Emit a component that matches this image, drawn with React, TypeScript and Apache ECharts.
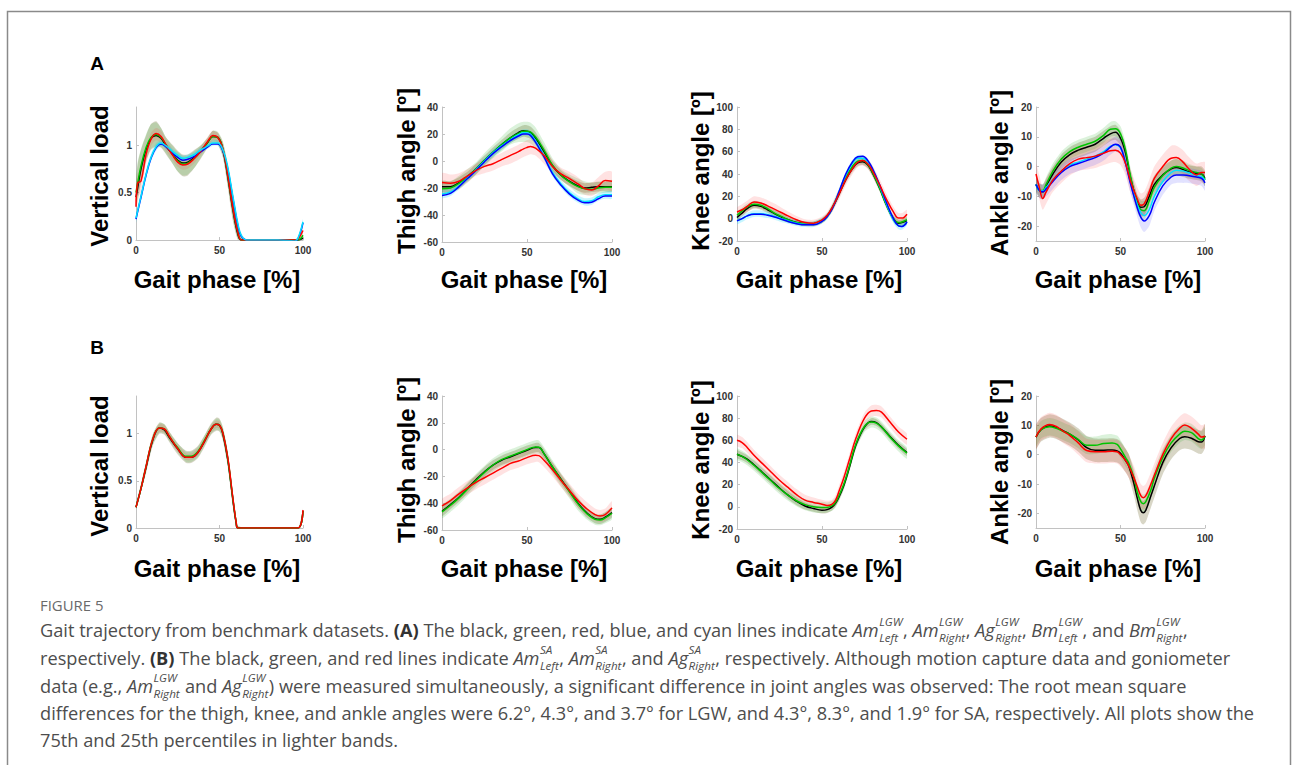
import React, { useEffect, useRef } from 'react';
import * as echarts from 'echarts';

// ---------------- DATA ----------------
// Panel A1: vertical load (LGW)
const A1_x = [0, 1, 3, 6, 9, 12, 15, 18, 22, 25, 28, 31, 35, 39, 43, 46, 49, 52, 55, 58, 61, 63, 66, 75, 85, 95, 97, 100];
const A1_black = [0.45, 0.55, 0.75, 0.95, 1.07, 1.10, 1.07, 0.99, 0.90, 0.84, 0.81, 0.82, 0.87, 0.94, 1.03, 1.09, 1.08, 0.95, 0.66, 0.32, 0.06, 0, 0, 0, 0, 0, 0, 0.02];
const A1_green = [0.50, 0.60, 0.78, 0.97, 1.08, 1.11, 1.08, 1.00, 0.90, 0.83, 0.80, 0.81, 0.86, 0.94, 1.03, 1.09, 1.08, 0.96, 0.68, 0.34, 0.08, 0, 0, 0, 0, 0, 0, 0.05];
const A1_red = [0.35, 0.60, 0.62, 0.90, 1.06, 1.12, 1.09, 1.00, 0.89, 0.82, 0.79, 0.80, 0.86, 0.94, 1.04, 1.10, 1.08, 0.96, 0.68, 0.34, 0.08, 0, 0, 0, 0, 0, 0.01, 0.10];
const A1_blue = [0.22, 0.30, 0.45, 0.68, 0.86, 0.97, 1.01, 0.98, 0.91, 0.87, 0.84, 0.85, 0.88, 0.93, 0.98, 1.01, 1.01, 0.94, 0.74, 0.44, 0.15, 0.04, 0, 0, 0, -0.01, 0.01, 0.18];
const A1_cyan = [0.23, 0.31, 0.46, 0.69, 0.87, 0.98, 1.02, 0.99, 0.93, 0.89, 0.86, 0.87, 0.90, 0.95, 0.99, 1.02, 1.02, 0.95, 0.76, 0.46, 0.17, 0.05, 0, 0, 0, -0.01, 0.02, 0.19];
const A1_black_lo = [0.35, 0.40, 0.60, 0.82, 0.95, 0.98, 0.97, 0.90, 0.80, 0.72, 0.67, 0.68, 0.76, 0.86, 0.97, 1.02, 1.00, 0.87, 0.55, 0.20, 0.00, 0, 0, 0, 0, 0, 0, 0];
const A1_black_hi = [0.60, 0.80, 0.95, 1.10, 1.22, 1.25, 1.18, 1.08, 1.00, 0.94, 0.90, 0.90, 0.95, 1.00, 1.08, 1.15, 1.13, 1.03, 0.78, 0.45, 0.15, 0.03, 0, 0, 0, 0, 0, 0.03];
const A1_green_lo = [0.38, 0.45, 0.62, 0.84, 0.96, 0.99, 0.98, 0.91, 0.80, 0.72, 0.68, 0.69, 0.76, 0.87, 0.98, 1.03, 1.01, 0.88, 0.57, 0.22, 0.01, 0, 0, 0, 0, 0, 0, 0.02];
const A1_green_hi = [0.62, 0.82, 0.96, 1.11, 1.22, 1.24, 1.18, 1.08, 0.99, 0.93, 0.89, 0.89, 0.94, 1.00, 1.08, 1.15, 1.14, 1.04, 0.79, 0.46, 0.16, 0.04, 0, 0, 0, 0, 0, 0.08];
const A1_red_lo = [0.30, 0.45, 0.50, 0.80, 0.99, 1.05, 1.02, 0.94, 0.84, 0.77, 0.74, 0.75, 0.81, 0.90, 0.99, 1.05, 1.03, 0.90, 0.60, 0.27, 0.04, 0, 0, 0, 0, 0, 0, 0.06];
const A1_red_hi = [0.42, 0.70, 0.74, 0.98, 1.13, 1.18, 1.15, 1.06, 0.95, 0.88, 0.85, 0.86, 0.91, 0.99, 1.09, 1.15, 1.13, 1.02, 0.76, 0.42, 0.12, 0.02, 0, 0, 0, 0, 0.02, 0.14];
const A1_cyan_lo = [0.18, 0.26, 0.41, 0.64, 0.83, 0.94, 0.99, 0.96, 0.90, 0.86, 0.83, 0.84, 0.87, 0.92, 0.96, 0.99, 0.99, 0.91, 0.70, 0.40, 0.12, 0.02, 0, 0, 0, -0.02, 0, 0.15];
const A1_cyan_hi = [0.28, 0.36, 0.51, 0.74, 0.91, 1.02, 1.05, 1.02, 0.96, 0.92, 0.89, 0.90, 0.93, 0.98, 1.02, 1.05, 1.05, 0.99, 0.81, 0.52, 0.22, 0.08, 0.01, 0, 0, 0, 0.04, 0.22];

// Panel A2: thigh angle (LGW)
const A2_x = [0, 5, 10, 15, 20, 25, 30, 35, 40, 45, 48, 50, 52, 55, 60, 65, 70, 75, 80, 84, 88, 92, 96, 100];
const A2_black = [-19, -19, -16, -11.5, -6, 0.5, 6.5, 12, 17, 21, 22.5, 22, 21, 17, 7, -3.5, -10.5, -15, -18.5, -20, -19.5, -19, -19, -19];
const A2_green = [-20.5, -20, -16.5, -11.5, -6, 0.5, 6.5, 12, 17, 20.5, 22, 22, 21.5, 18, 8, -3, -10.5, -15.5, -19, -20.5, -21, -20, -19.5, -19.5];
const A2_red = [-16, -16.5, -15, -11, -7, -4, -2, 1, 4, 7, 9, 10, 10.8, 9.5, 4, -4, -9.5, -13, -17, -20.5, -21.5, -18.5, -14.5, -15];
const A2_blue = [-25.5, -24, -19, -13, -7, -0.5, 5.5, 10.5, 15, 18.5, 20, 20, 19, 14, 3, -9.5, -18, -24.5, -29, -31, -30.5, -28, -26, -26];
const A2_cyan = [-24.5, -23, -18.5, -12.5, -6.5, 0, 6, 11, 15.5, 19.5, 21, 21, 20, 15, 4, -8.5, -17, -23.5, -28, -30, -29.5, -26.5, -25, -25];
const A2_black_lo = [-23, -23, -20, -15, -10, -3, 3, 8.5, 13, 16.5, 18, 17.5, 16.5, 12.5, 3, -7, -14, -18.5, -22, -23.5, -23, -22.5, -22.5, -22.5];
const A2_black_hi = [-15, -15, -12, -8, -2, 4, 10, 15.5, 21, 25, 26.5, 26.5, 25.5, 21.5, 11, 0, -7, -11.5, -15, -16.5, -16, -15.5, -15.5, -15.5];
const A2_green_lo = [-25, -24, -21, -16, -10, -4, 2, 7, 12, 14, 14, 14, 13, 10, 1, -8, -14, -19, -24, -25, -25, -24, -23.5, -23];
const A2_green_hi = [-15, -15, -11, -6, -1, 6, 12, 18, 24, 28, 29, 29, 28.5, 25, 14, 2, -6, -10, -13, -15, -16, -15, -15, -14];
const A2_red_lo = [-23, -23, -21, -16, -11, -9, -7, -4, -2, 1, 3, 4, 5, 4, -2, -9, -14, -18, -22, -25, -26, -23, -21, -22];
const A2_red_hi = [-9, -10, -9, -6, -2, 1, 3, 6, 9, 12, 14, 15.5, 16, 15, 10, 1, -5, -8, -12, -16, -16, -12, -8, -8];
const A2_cyan_lo = [-27.5, -26, -21, -15, -9, -3, 3, 8, 13, 17, 18.5, 18.5, 17, 12, 1, -11.5, -20, -26.5, -31, -33, -32.5, -29.5, -28, -28];
const A2_cyan_hi = [-21.5, -20, -16, -10, -4, 2.5, 8.5, 13.5, 18, 22, 23.5, 23.5, 22.5, 17.5, 6.5, -6, -14.5, -21, -25.5, -27.5, -27, -24, -22.5, -22.5];

// Panel A3: knee angle (LGW)
const A3_x = [0, 3, 6, 10, 14, 18, 22, 26, 30, 35, 40, 45, 50, 53, 56, 60, 64, 68, 71, 74, 77, 80, 84, 88, 92, 95, 97, 100];
const A3_black = [1, 5, 9, 12, 11, 8, 4.5, 1.5, -1, -3.5, -4.5, -4.5, -2, 2, 9, 22, 35, 45, 50, 51, 48, 40, 27, 12, 0, -4, -3.5, -2];
const A3_green = [3, 7, 10.5, 13, 12, 9, 5, 2, -1, -3.5, -4.5, -4.5, -1.5, 2.5, 10, 23, 37, 47, 51.5, 52, 48.5, 40.5, 27, 12, 0, -3.5, -3, -1];
const A3_red = [6, 8, 11, 15, 14, 11.5, 8.5, 5.5, 2.5, -1, -3.5, -4, -1, 3, 10, 22, 35, 45, 50.5, 52, 49, 42, 30, 17, 6, 0.5, 0.5, 4];
const A3_blue = [-2, 0, 2.5, 4, 4, 3, 1.5, -0.5, -2.5, -4.5, -5.5, -5.5, -2.5, 2, 9, 24, 40, 51, 55.5, 56, 52, 44, 30, 14, 0, -6.5, -7, -3];
const A3_cyan = [-2, 0, 2.5, 4.5, 4.5, 3.5, 2, 0, -2, -4, -5, -5, -2, 2, 9, 24, 39, 50, 54, 54, 50.5, 43, 29, 13, -1, -6.5, -7, -3];
const A3_black_lo = [-2, 2, 6, 9, 8, 5, 1.5, -1.5, -3.5, -5.5, -6.5, -6.5, -4, 0, 6.5, 19, 32, 42, 47, 48, 45, 37, 24, 9, -3, -7, -6.5, -5];
const A3_black_hi = [4, 8, 12, 15, 14, 11, 7.5, 4.5, 1.5, -1.5, -2.5, -2.5, 0, 4, 11.5, 25, 38, 48, 53, 54, 51, 43, 30, 15, 3, -1, -0.5, 1];
const A3_green_lo = [0, 4, 7.5, 10, 9, 6, 2, -1, -3.5, -5.5, -6.5, -6.5, -4, 0, 7, 20, 34, 44, 48.5, 49, 45.5, 37.5, 24, 9, -3, -6.5, -6, -4];
const A3_green_hi = [6, 10, 13.5, 16, 15, 12, 8, 5, 1.5, -1.5, -2.5, -2.5, 1, 5, 13, 26, 40, 50, 54.5, 55, 51.5, 43.5, 30, 15, 3, -0.5, 0, 2];
const A3_red_lo = [1, 3, 6, 10, 9, 6.5, 3.5, 1, -1.5, -4.5, -6.5, -7, -4, 0, 6, 17, 30, 40, 46, 47.5, 44.5, 37, 25, 12, 1.5, -4, -3.5, -1];
const A3_red_hi = [10, 13, 16, 20, 19, 16.5, 13.5, 10, 6.5, 2.5, -0.5, -1, 2, 6, 14, 27, 40, 50, 55, 56.5, 53.5, 47, 35, 22, 10.5, 5, 5, 8];
const A3_cyan_lo = [-5, -3, -0.5, 1.5, 1.5, 0.5, -1, -3, -4.5, -6.5, -7.5, -7.5, -4.5, -0.5, 6.5, 21, 36, 47, 51, 51, 47.5, 40, 26, 10, -4, -9.5, -10, -6];
const A3_cyan_hi = [1, 3, 5.5, 7.5, 7.5, 6.5, 5, 3, 0.5, -1.5, -2.5, -2.5, 0.5, 4.5, 11.5, 27, 42, 53, 57, 57, 53.5, 46, 32, 16, 2, -3.5, -4, 0];

// Panel A4: ankle angle (LGW)
const A4_x = [0, 2, 4, 6, 10, 15, 20, 25, 30, 35, 40, 44, 47, 50, 53, 56, 60, 62, 64, 67, 70, 75, 80, 83, 87, 90, 95, 98, 100];
const A4_black = [-6, -8, -8.5, -6.5, -2.5, 1.5, 4, 5.5, 6.5, 7.5, 9.5, 11, 11.5, 9.5, 4.5, -4, -12, -13.7, -13.5, -10, -6, -2.8, -0.8, -0.3, -1, -1.7, -2.3, -2.5, -4];
const A4_green = [-6, -8, -8, -6, -1.5, 2.5, 5, 6.5, 7.5, 8.5, 10.5, 12.5, 12.7, 11, 5.5, -3.5, -12.5, -14.5, -14.8, -11.5, -7, -3, -0.5, 0, -0.5, -1.2, -2, -2.5, -4.5];
const A4_red = [-2.5, -7, -10.7, -8.5, -4.5, -1.5, 1, 2.5, 3, 3.5, 4.5, 5.3, 5.5, 4.5, 1, -5, -11, -13, -12.5, -8.5, -4, 0, 2.8, 3, 1.5, -0.5, -2.8, -2, -2];
const A4_blue = [-6, -8, -8.5, -7.5, -5, -2, 0, 1, 2, 3, 4.5, 6.5, 7.5, 6.5, 1, -6, -14, -17, -18.3, -16.5, -12, -6.5, -3.5, -2.8, -2.8, -3, -3.5, -4, -5.5];
const A4_cyan = [-6, -8, -8.2, -7, -4.5, -1.5, 0.5, 1.5, 2.5, 3.5, 5, 6.8, 7.3, 6.3, 1.5, -5.5, -13, -15.5, -16.5, -14.5, -10, -5, -2, -1.2, -1.5, -2, -3, -3.5, -4.5];
const A4_black_lo = [-8.5, -10.5, -11, -9, -5, -1, 1.5, 3, 4, 5, 7, 8.5, 9, 7, 2, -6.5, -14.5, -16.5, -16.5, -13, -9, -5.5, -3.5, -3, -3.5, -4, -4.5, -5, -6.5];
const A4_black_hi = [-3.5, -5.5, -6, -4, 0, 4, 6.5, 8, 9, 10, 12, 13.5, 14, 12, 7, -1.5, -9.5, -11, -10.5, -7, -3, 0, 2, 2.5, 1.5, 0.5, 0, 0, -1.5];
const A4_green_lo = [-8, -10, -10, -8.5, -4, 0, 2.5, 4, 5, 6, 8, 10, 10.2, 8.5, 3, -6.5, -15.5, -17.5, -18, -14.5, -10, -5.5, -3, -2.5, -3, -3.5, -4, -4.5, -6.5];
const A4_green_hi = [-4, -6, -6, -3.5, 1, 5, 7.5, 9, 10, 11, 13, 15, 15.2, 13.5, 8, -0.5, -9.5, -11.5, -11.5, -8.5, -4, -0.5, 2, 2.5, 2, 1, 0, -0.5, -2.5];
const A4_red_lo = [-6, -11, -14.5, -12.5, -8.5, -5.5, -3, -1.5, -1, -0.5, 0.5, 1.3, 1.5, 0.5, -3, -9, -15, -17, -16.5, -12.5, -8, -4, -1.5, -1, -2.5, -4.5, -6.5, -5.5, -5.5];
const A4_red_hi = [1, -3, -7, -4.5, -0.5, 2.5, 5, 6.5, 7, 7.5, 8.5, 9.3, 9.5, 8.5, 5, -1, -7, -9, -8.5, -4.5, 0, 4, 7, 7, 5.5, 3.5, 1, 1.5, 1.5];
const A4_blue_lo = [-8.5, -10.5, -11, -10, -7.5, -4.5, -2.5, -1.5, -0.5, 0.5, 2, 4, 5, 4, -2, -9, -17, -20.5, -22, -20, -15, -9.5, -6, -5.5, -5.5, -5.5, -6, -6.5, -8];
const A4_blue_hi = [-3.5, -5.5, -6, -5, -2.5, 0.5, 2.5, 3.5, 4.5, 5.5, 7, 9, 10, 9, 4, -3, -11, -13.5, -14.5, -13, -9, -3.5, -1, -0.3, -0.3, -0.5, -1, -1.5, -3];

// Panel B1: vertical load (SA)
const B1_x = [0, 3, 6, 10, 14, 17, 20, 25, 30, 33, 37, 41, 45, 48, 50, 52, 55, 58, 60, 61, 70, 80, 90, 97, 100];
const B1_black = [0.22, 0.42, 0.64, 0.93, 1.06, 1.04, 0.96, 0.84, 0.75, 0.75, 0.80, 0.92, 1.05, 1.10, 1.09, 1.00, 0.72, 0.30, 0.05, 0, 0, 0, 0, 0, 0.18];
const B1_green = [0.22, 0.42, 0.65, 0.94, 1.06, 1.05, 0.97, 0.85, 0.76, 0.76, 0.81, 0.93, 1.05, 1.10, 1.09, 1.01, 0.73, 0.31, 0.06, 0, 0, 0, 0, 0, 0.18];
const B1_red = [0.22, 0.42, 0.65, 0.94, 1.06, 1.05, 0.97, 0.84, 0.75, 0.75, 0.80, 0.92, 1.05, 1.10, 1.09, 1.01, 0.74, 0.32, 0.06, 0, 0, 0, 0, 0, 0.19];
const B1_black_lo = [0.20, 0.38, 0.58, 0.87, 1.00, 0.99, 0.91, 0.78, 0.69, 0.69, 0.74, 0.86, 0.99, 1.03, 1.02, 0.93, 0.64, 0.22, 0.01, 0, 0, 0, 0, 0, 0.16];
const B1_black_hi = [0.25, 0.47, 0.70, 0.99, 1.12, 1.10, 1.02, 0.90, 0.82, 0.82, 0.87, 0.98, 1.11, 1.17, 1.16, 1.07, 0.80, 0.38, 0.10, 0.02, 0, 0, 0, 0, 0.20];
const B1_green_lo = [0.20, 0.39, 0.60, 0.88, 1.01, 1.00, 0.92, 0.80, 0.70, 0.70, 0.75, 0.87, 1.00, 1.04, 1.03, 0.94, 0.66, 0.24, 0.02, 0, 0, 0, 0, 0, 0.16];
const B1_green_hi = [0.24, 0.46, 0.69, 0.99, 1.11, 1.10, 1.02, 0.90, 0.81, 0.81, 0.86, 0.98, 1.10, 1.16, 1.15, 1.07, 0.80, 0.38, 0.10, 0.02, 0, 0, 0, 0, 0.20];
const B1_red_lo = [0.21, 0.40, 0.62, 0.90, 1.02, 1.01, 0.93, 0.81, 0.72, 0.72, 0.77, 0.89, 1.01, 1.06, 1.05, 0.96, 0.68, 0.27, 0.03, 0, 0, 0, 0, 0, 0.17];
const B1_red_hi = [0.23, 0.44, 0.68, 0.98, 1.10, 1.09, 1.01, 0.88, 0.79, 0.79, 0.84, 0.96, 1.09, 1.14, 1.13, 1.05, 0.79, 0.37, 0.09, 0.01, 0, 0, 0, 0, 0.21];

// Panel B2: thigh angle (SA)
const B2_x = [0, 5, 10, 15, 20, 25, 30, 35, 40, 45, 50, 55, 57, 60, 65, 70, 75, 80, 85, 90, 93, 96, 100];
const B2_black = [-46, -41, -35.5, -29, -22.5, -16.5, -11.5, -8, -5.5, -3, -0.5, 1.5, 1.5, -3, -13, -22, -31, -40, -47, -51.5, -52, -50.5, -47];
const B2_green = [-46.5, -41.5, -36, -29.5, -23, -17, -11.5, -7.5, -5, -2.5, 0, 2, 1.8, -3, -13, -22.5, -31.5, -40.5, -47.5, -52, -52.5, -51, -47.5];
const B2_red = [-42, -38, -33, -28.5, -24.5, -21, -17.5, -14, -10.5, -8.5, -6, -4.2, -4.5, -8, -15, -23, -30.5, -38, -44, -48.5, -49.5, -48.5, -43.5];
const B2_black_lo = [-49.5, -44.5, -39, -32.5, -26, -20, -15, -11.5, -9, -6.5, -4, -2, -2, -6.5, -16.5, -25.5, -34.5, -43.5, -50.5, -55, -55.5, -54, -50.5];
const B2_black_hi = [-42.5, -37.5, -32, -25.5, -19, -13, -8, -4.5, -2, 0.5, 3, 5, 5, 0.5, -9.5, -18.5, -27.5, -36.5, -43.5, -48, -48.5, -47, -43.5];
const B2_green_lo = [-51, -46.5, -41, -34.5, -28, -22, -16.5, -12.5, -10, -7.5, -5, -3, -3.2, -8, -18, -27.5, -36.5, -45.5, -52, -56, -56.5, -55, -52];
const B2_green_hi = [-41.5, -36.5, -31, -24.5, -18, -12, -6.5, -2.5, 0, 2.5, 5, 7, 6.8, 2, -8, -17.5, -26.5, -35.5, -43, -47.5, -48.5, -46.5, -43];
const B2_red_lo = [-47, -43, -38, -33.5, -29.5, -26, -22.5, -19, -15.5, -13.5, -11, -9.2, -9.5, -13, -20, -28, -35.5, -43, -49, -53, -54, -53, -48.5];
const B2_red_hi = [-37, -33, -28, -23.5, -19.5, -16, -12.5, -9, -5.5, -3.5, -1, 0.8, 0.5, -3, -10, -18, -25.5, -33, -39, -44, -45, -44, -38.5];

// Panel B3: knee angle (SA)
const B3_x = [0, 3, 6, 10, 15, 20, 25, 30, 35, 40, 45, 50, 53, 56, 58, 60, 63, 66, 70, 75, 79, 82, 85, 90, 95, 100];
const B3_black = [47.5, 45.5, 43, 38, 31, 24, 17, 10.5, 5, 0.8, -1.5, -3, -2.5, 0, 3.5, 9, 20, 35, 56, 72, 77, 76, 72, 63.5, 55.5, 49];
const B3_green = [47.5, 45.5, 42.5, 37.5, 30.5, 23.5, 16.5, 10.5, 5.5, 2, 0, -0.5, -0.5, 1, 4, 10, 21, 36, 57, 72.5, 76.5, 75.5, 72, 63, 55, 48.5];
const B3_red = [60, 58, 53.5, 46.5, 39, 31.5, 24, 17.5, 11, 6, 4, 2.4, 1.2, 2.5, 6, 14, 27, 42, 62, 80, 86.5, 87, 85.5, 76.5, 67.5, 61];
const B3_black_lo = [44, 42, 39.5, 34.5, 27.5, 20.5, 13.5, 7, 1.5, -2.5, -4.5, -6, -5.5, -3, 0.5, 6, 17, 32, 53, 69, 74, 73, 69, 60.5, 52.5, 46];
const B3_black_hi = [51, 49, 46.5, 41.5, 34.5, 27.5, 20.5, 14, 8.5, 4, 1.5, 0, 0.5, 3, 6.5, 12, 23, 38, 59, 75, 80, 79, 75, 66.5, 58.5, 52];
const B3_green_lo = [42.5, 40.5, 37.5, 32.5, 25.5, 18.5, 11.5, 5.5, 0.5, -3, -5, -5.5, -5, -3.5, -0.5, 5, 16, 31, 52, 67.5, 71.5, 70.5, 67, 58, 50, 43.5];
const B3_green_hi = [52.5, 50.5, 47.5, 42.5, 35.5, 28.5, 21.5, 15.5, 10.5, 7, 5, 4.5, 4, 5.5, 8.5, 15, 26, 41, 62, 77.5, 81.5, 80.5, 77, 68, 60, 53.5];
const B3_red_lo = [55, 53, 48.5, 41.5, 34, 26.5, 19, 12.5, 6, 1.5, -0.5, -2, -3, -1.5, 1.5, 9, 22, 37, 57, 75, 81.5, 82, 80.5, 71.5, 62.5, 56];
const B3_red_hi = [65, 63, 58.5, 51.5, 44, 36.5, 29, 22.5, 16, 11, 8.5, 6.5, 5.5, 6.5, 10.5, 19, 32, 47, 67, 85, 91.5, 92, 90.5, 81.5, 72.5, 66];

// Panel B4: ankle angle (SA)
const B4_x = [0, 3, 8, 12, 16, 20, 25, 30, 35, 40, 45, 48, 50, 53, 55, 58, 60, 62, 63.5, 65, 68, 70, 75, 80, 85, 88, 92, 96, 98, 100];
const B4_black = [6, 8.5, 9.8, 9.3, 8.2, 7, 5, 2.4, 1.5, 1.5, 1.6, 1.3, 0.5, -2, -4, -10, -15, -19, -19.8, -18.9, -14, -10.7, -2.7, 2.4, 5.5, 6.1, 5.6, 4.4, 4.3, 6.4];
const B4_green = [6, 8.5, 9.5, 9, 8, 7, 5.2, 3.2, 3.2, 3.8, 4, 3.5, 2, -1, -3, -8, -13, -16, -16.7, -16, -12, -8, -1, 4, 7, 8, 7.5, 5.5, 5, 6.3];
const B4_red = [6, 8.8, 10.3, 9.6, 8, 6.5, 4, 1.4, 1, 1, 1.2, 1, 0, -2, -4, -8, -11, -14, -14.7, -14, -10, -7, 0, 5.5, 9, 10.1, 9, 7, 6, 6.3];
const B4_black_lo = [2, 4.5, 5.8, 5.3, 4.2, 3, 1, -1.6, -2.5, -2.5, -2.4, -2.7, -3.5, -6, -8, -14, -19, -23, -23.8, -22.9, -18, -14.7, -6.7, -1.6, 1.5, 2.1, 1.6, 0.4, 0.3, 2.4];
const B4_black_hi = [10, 12.5, 13.8, 13.3, 12.2, 11, 9, 6.4, 5.5, 5.5, 5.6, 5.3, 4.5, 2, 0, -6, -11, -15, -15.8, -14.9, -10, -6.7, 1.3, 6.4, 9.5, 10.1, 9.6, 8.4, 8.3, 10.4];
const B4_green_lo = [3, 5.5, 6.5, 6, 5, 4, 2.2, 0.2, 0.2, 0.8, 1, 0.5, -1, -4, -6, -11, -16, -19, -19.7, -19, -15, -11, -4, 1, 4, 5, 4.5, 2.5, 2, 3.3];
const B4_green_hi = [9, 11.5, 12.5, 12, 11, 10, 8.2, 6.2, 6.2, 6.8, 7, 6.5, 5, 2, 0, -5, -10, -13, -13.7, -13, -9, -5, 2, 7, 10, 11, 10.5, 8.5, 8, 9.3];
const B4_red_lo = [2, 4.8, 6.3, 5.6, 4, 2.5, 0, -2.6, -3, -3, -2.8, -3, -4, -6, -8, -12, -15, -18, -18.7, -18, -14, -11, -4, 1.5, 5, 6.1, 5, 3, 2, 2.3];
const B4_red_hi = [10, 12.8, 14.3, 13.6, 12, 10.5, 8, 5.4, 5, 5, 5.2, 5, 4, 2, 0, -4, -7, -10, -10.7, -10, -6, -3, 4, 9.5, 13, 14.1, 13, 11, 10, 10.3];

// Axis ranges and tick labels
const X_TICKS = [0, 50, 100];
const LOAD_RANGE = [0, 1.4];
const LOAD_TICKS = [0, 0.5, 1];
const THIGH_RANGE = [-60, 40];
const THIGH_TICKS = [-60, -40, -20, 0, 20, 40];
const KNEE_RANGE = [-20, 100];
const KNEE_TICKS = [-20, 0, 20, 40, 60, 80, 100];
const ANKLE_RANGE = [-25, 20];
const ANKLE_TICKS = [-20, -10, 0, 10, 20];

const Y_TITLES = ['Vertical load', 'Thigh angle [º]', 'Knee angle [º]', 'Ankle angle [º]'];
const X_TITLE = 'Gait phase [%]';

// ---------------- STYLE ----------------
const LINE_COLORS: Record<string, string> = {
  black: '#000000', green: '#00c400', red: '#ff0000', blue: '#0000ff', cyan: '#00e1ff',
};
const BAND_COLORS: Record<string, string> = {
  black: 'rgba(105,95,35,0.26)', green: 'rgba(0,165,0,0.14)', red: 'rgba(255,50,50,0.14)',
  blue: 'rgba(50,50,255,0.14)', cyan: 'rgba(0,215,255,0.22)',
};
const DRAW_ORDER_A1 = ['black', 'green', 'blue', 'red', 'cyan'];
const DRAW_ORDER = ['black', 'green', 'cyan', 'blue', 'red'];

// grid: left, top, width, height
const GRID_POS = [
  [136, 107, 167, 133], [442, 107, 170, 135], [737, 107, 170, 134], [1036, 107, 169, 134],
  [136, 396, 167, 132], [442, 396, 170, 134], [737, 396, 170, 133], [1036, 396, 169, 132],
];
const YTITLE_POS = [[99, 176], [406, 171], [700, 171], [999, 173], [99, 466], [406, 460], [700, 460], [999, 462]];
const XTITLE_POS = [[217, 279], [524, 279], [819, 279], [1118, 279], [217, 568], [524, 568], [819, 568], [1118, 568]];

type Panel = {
  x: number[]; range: number[]; ticks: number[]; title: string; order: string[];
  lines: Record<string, number[]>;
  bands: [string, number[], number[]][];
};

const PANELS: Panel[] = [
  { x: A1_x, range: LOAD_RANGE, ticks: LOAD_TICKS, title: Y_TITLES[0], order: DRAW_ORDER_A1,
    lines: { black: A1_black, green: A1_green, red: A1_red, blue: A1_blue, cyan: A1_cyan },
    bands: [['black', A1_black_lo, A1_black_hi], ['green', A1_green_lo, A1_green_hi], ['red', A1_red_lo, A1_red_hi], ['cyan', A1_cyan_lo, A1_cyan_hi]] },
  { x: A2_x, range: THIGH_RANGE, ticks: THIGH_TICKS, title: Y_TITLES[1], order: DRAW_ORDER,
    lines: { black: A2_black, green: A2_green, red: A2_red, blue: A2_blue, cyan: A2_cyan },
    bands: [['black', A2_black_lo, A2_black_hi], ['green', A2_green_lo, A2_green_hi], ['red', A2_red_lo, A2_red_hi], ['cyan', A2_cyan_lo, A2_cyan_hi]] },
  { x: A3_x, range: KNEE_RANGE, ticks: KNEE_TICKS, title: Y_TITLES[2], order: DRAW_ORDER,
    lines: { black: A3_black, green: A3_green, red: A3_red, blue: A3_blue, cyan: A3_cyan },
    bands: [['black', A3_black_lo, A3_black_hi], ['green', A3_green_lo, A3_green_hi], ['red', A3_red_lo, A3_red_hi], ['cyan', A3_cyan_lo, A3_cyan_hi]] },
  { x: A4_x, range: ANKLE_RANGE, ticks: ANKLE_TICKS, title: Y_TITLES[3], order: DRAW_ORDER,
    lines: { black: A4_black, green: A4_green, red: A4_red, blue: A4_blue, cyan: A4_cyan },
    bands: [['black', A4_black_lo, A4_black_hi], ['green', A4_green_lo, A4_green_hi], ['red', A4_red_lo, A4_red_hi], ['blue', A4_blue_lo, A4_blue_hi]] },
  { x: B1_x, range: LOAD_RANGE, ticks: LOAD_TICKS, title: Y_TITLES[0], order: DRAW_ORDER,
    lines: { black: B1_black, green: B1_green, red: B1_red },
    bands: [['black', B1_black_lo, B1_black_hi], ['green', B1_green_lo, B1_green_hi], ['red', B1_red_lo, B1_red_hi]] },
  { x: B2_x, range: THIGH_RANGE, ticks: THIGH_TICKS, title: Y_TITLES[1], order: DRAW_ORDER,
    lines: { black: B2_black, green: B2_green, red: B2_red },
    bands: [['black', B2_black_lo, B2_black_hi], ['green', B2_green_lo, B2_green_hi], ['red', B2_red_lo, B2_red_hi]] },
  { x: B3_x, range: KNEE_RANGE, ticks: KNEE_TICKS, title: Y_TITLES[2], order: DRAW_ORDER,
    lines: { black: B3_black, green: B3_green, red: B3_red },
    bands: [['black', B3_black_lo, B3_black_hi], ['green', B3_green_lo, B3_green_hi], ['red', B3_red_lo, B3_red_hi]] },
  { x: B4_x, range: ANKLE_RANGE, ticks: ANKLE_TICKS, title: Y_TITLES[3], order: DRAW_ORDER,
    lines: { black: B4_black, green: B4_green, red: B4_red },
    bands: [['black', B4_black_lo, B4_black_hi], ['green', B4_green_lo, B4_green_hi], ['red', B4_red_lo, B4_red_hi]] },
];

// ---------------- CAPTION ----------------
type Seg = string | { b: string } | { m: string; sup: string; sub: string };
const M = (m: string, sup: string, sub: string) => ({ m, sup, sub });
const CAPTION_LABEL = 'FIGURE 5';
const CAPTION_LINES: Seg[][] = [
  ['Gait trajectory from benchmark datasets. ', { b: '(A)' }, ' The black, green, red, blue, and cyan lines indicate ',
    M('Am', 'LGW', 'Left'), ', ', M('Am', 'LGW', 'Right'), ', ', M('Ag', 'LGW', 'Right'), ', ', M('Bm', 'LGW', 'Left'), ', and ', M('Bm', 'LGW', 'Right'), ','],
  ['respectively. ', { b: '(B)' }, ' The black, green, and red lines indicate ', M('Am', 'SA', 'Left'), ', ', M('Am', 'SA', 'Right'), ', and ',
    M('Ag', 'SA', 'Right'), ', respectively. Although motion capture data and goniometer'],
  ['data (e.g., ', M('Am', 'LGW', 'Right'), ' and ', M('Ag', 'LGW', 'Right'), ') were measured simultaneously, a significant difference in joint angles was observed: The root mean square'],
  ['differences for the thigh, knee, and ankle angles were 6.2°, 4.3°, and 3.7° for LGW, and 4.3°, 8.3°, and 1.9° for SA, respectively. All plots show the'],
  ['75th and 25th percentiles in lighter bands.'],
];
const CAP_FONT = 'Open Sans';
const CAP_X = 40;
const CAP_Y = [630, 658, 686, 713, 740];
const CAP_COLOR = '#4d4d4d';

function buildCaption(): any[] {
  const canvas = document.createElement('canvas');
  const ctx = canvas.getContext('2d')!;
  const measure = (t: string, size: number, weight = 'normal', style = 'normal') => {
    ctx.font = `${style} ${weight} ${size}px "${CAP_FONT}"`;
    return ctx.measureText(t).width;
  };
  const refW = measure(CAPTION_LINES[3][0] as string, 16);
  const size = Math.max(13, Math.min(20, (16 * 1215) / refW));
  const small = size * 0.64;
  const out: any[] = [];
  const txt = (x: number, y: number, text: string, fs: number, weight = 'normal', style = 'normal', fill = CAP_COLOR) => ({
    type: 'text', x, y, silent: true,
    style: { text, fontSize: fs, fontFamily: CAP_FONT, fontWeight: weight, fontStyle: style, fill, align: 'left', verticalAlign: 'middle' },
  });
  out.push(txt(CAP_X, 605, CAPTION_LABEL, size * 0.82, 'normal', 'normal', '#6a6a6a'));
  CAPTION_LINES.forEach((line, li) => {
    let x = CAP_X;
    const y = CAP_Y[li];
    line.forEach((seg) => {
      if (typeof seg === 'string') {
        out.push(txt(x, y, seg, size));
        x += measure(seg, size);
      } else if ('b' in seg) {
        out.push(txt(x, y, seg.b, size, 'bold', 'normal', '#333'));
        x += measure(seg.b, size, 'bold');
      } else {
        out.push(txt(x, y, seg.m, size, 'normal', 'italic'));
        x += measure(seg.m, size, 'normal', 'italic') + 0.5;
        out.push(txt(x, y - size * 0.46, seg.sup, small, 'normal', 'italic'));
        out.push(txt(x, y + size * 0.4, seg.sub, small, 'normal', 'italic'));
        x += Math.max(measure(seg.sup, small, 'normal', 'italic'), measure(seg.sub, small, 'normal', 'italic')) + 0.5;
      }
    });
  });
  return out;
}

// ---------------- OPTION ----------------
const AXIS_COLOR = '#c2c2c2';
const TICK_FONT = { fontSize: 10, fontWeight: 'bold', color: '#333', fontFamily: 'Liberation Sans' };
const TITLE_FONT = 'Liberation Sans';

function buildOption() {
  const grid = GRID_POS.map(([l, t, w, h]) => ({ left: l, top: t, width: w, height: h }));
  const xAxis = PANELS.map((_, i) => ({
    gridIndex: i, type: 'value', min: X_TICKS[0], max: X_TICKS[X_TICKS.length - 1], interval: 50,
    axisLine: { show: true, onZero: false, lineStyle: { color: AXIS_COLOR, width: 1 } },
    axisTick: { show: true, inside: true, length: 3, lineStyle: { color: AXIS_COLOR } },
    axisLabel: { ...TICK_FONT, margin: 5, customValues: X_TICKS },
    splitLine: { show: false },
  }));
  const yAxis = PANELS.map((p, i) => ({
    gridIndex: i, type: 'value', min: p.range[0], max: p.range[1],
    axisLine: { show: true, onZero: false, lineStyle: { color: AXIS_COLOR, width: 1 } },
    axisTick: { show: true, inside: true, length: 3, lineStyle: { color: AXIS_COLOR }, customValues: p.ticks },
    axisLabel: { ...TICK_FONT, margin: 4, customValues: p.ticks },
    splitLine: { show: false },
  }));
  const series: any[] = [];
  PANELS.forEach((p, i) => {
    p.bands.forEach(([name, lo, hi]) => {
      series.push({
        type: 'custom', name: `band-${i}-${name}`, xAxisIndex: i, yAxisIndex: i, silent: true, clip: true, z: 1,
        data: p.x.map((v, k) => [v, lo[k], hi[k]]),
        encode: { x: 0, y: [1, 2] },
        renderItem: (params: any, api: any) => {
          if (params.dataIndex !== 0) return null;
          const top = p.x.map((v, k) => api.coord([v, hi[k]]));
          const bot = p.x.map((v, k) => api.coord([v, lo[k]])).reverse();
          return {
            type: 'polygon',
            shape: { points: top.concat(bot), smooth: 0.25 },
            style: { fill: BAND_COLORS[name], stroke: null },
          };
        },
      });
    });
    p.order.forEach((name) => {
      const ys = p.lines[name];
      if (!ys) return;
      series.push({
        type: 'line', name: `${i}-${name}`, xAxisIndex: i, yAxisIndex: i, silent: true, clip: true, z: 2,
        data: p.x.map((v, k) => [v, ys[k]]),
        smooth: 0.4, symbol: 'none', showSymbol: false,
        lineStyle: { color: LINE_COLORS[name], width: 1.5 },
        itemStyle: { color: LINE_COLORS[name] },
      });
    });
  });

  const graphic: any[] = [
    { type: 'rect', silent: true, shape: { x: 7.5, y: 11.5, width: 1283, height: 800 },
      style: { fill: null, stroke: '#8a8a8a', lineWidth: 1.5 } },
    { type: 'text', x: 97, y: 63, silent: true,
      style: { text: 'A', fontSize: 19, fontWeight: 'bold', fontFamily: TITLE_FONT, fill: '#000', align: 'center', verticalAlign: 'middle' } },
    { type: 'text', x: 97, y: 347, silent: true,
      style: { text: 'B', fontSize: 19, fontWeight: 'bold', fontFamily: TITLE_FONT, fill: '#000', align: 'center', verticalAlign: 'middle' } },
  ];
  PANELS.forEach((p, i) => {
    graphic.push({
      type: 'text', x: YTITLE_POS[i][0], y: YTITLE_POS[i][1], rotation: Math.PI / 2, silent: true,
      style: { text: p.title, fontSize: 24, fontWeight: 'bold', fontFamily: TITLE_FONT, fill: '#000', align: 'center', verticalAlign: 'middle' },
    });
    graphic.push({
      type: 'text', x: XTITLE_POS[i][0], y: XTITLE_POS[i][1], silent: true,
      style: { text: X_TITLE, fontSize: 24, fontWeight: 'bold', fontFamily: TITLE_FONT, fill: '#000', align: 'center', verticalAlign: 'middle' },
    });
  });
  graphic.push(...buildCaption());

  return { animation: false, backgroundColor: '#ffffff', grid, xAxis, yAxis, series, graphic };
}

export default function App() {
  const ref = useRef<HTMLDivElement>(null);
  useEffect(() => {
    if (!ref.current) return;
    const chart = echarts.init(ref.current, null, { renderer: 'svg' });
    chart.setOption(buildOption() as any);
    return () => chart.dispose();
  }, []);
  return (
    <div
      ref={ref}
      style={{ position: 'fixed', left: 0, top: 0, width: 1293, height: 765, background: '#fff' }}
    />
  );
}
